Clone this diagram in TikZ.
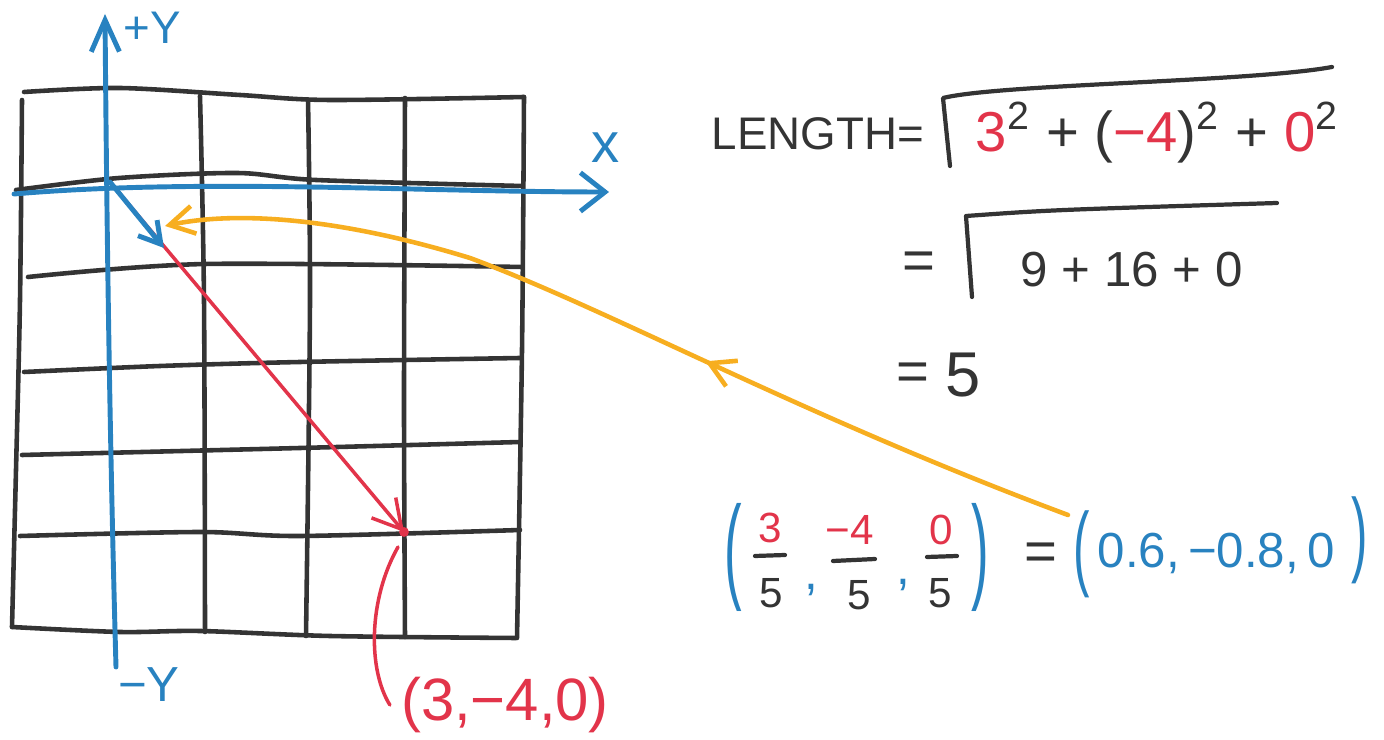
\documentclass[tikz,border=0pt]{standalone}
\usepackage{fontspec}
\setmainfont{Liberation Sans}
\usetikzlibrary{arrows.meta, decorations.markings}

\definecolor{penblue}{RGB}{40,130,192}
\definecolor{penred}{RGB}{226,52,74}
\definecolor{penorange}{RGB}{247,174,32}
\definecolor{pengray}{RGB}{52,52,52}

\tikzset{
        gridline/.style = {color = pengray, smooth, line width = 1.3pt, line cap = round},
        axisline/.style = {color = penblue, line width = 1.4pt, line cap = round},
        redline/.style = {color = penred, line width = 1pt, line cap = round},
        orangeline/.style = {color = penorange, line width = 1.3pt, line cap = round},
        pen/.style = {color = pengray, line width = 1.2pt, line cap = round, line join = round},
        hand/.style = {inner sep = 0pt, color = pengray, font = \fontsize{#1}{#1}\selectfont},
        hand/.default = 16
}

\begin{document}
\begin{tikzpicture}[x = 0.01cm, y = -0.01cm]
        \useasboundingbox (0,0) rectangle (1384,740);
        \draw[gridline] plot coordinates {(24,92) (120,88) (240,95) (330,100) (524,97)};
        \draw[gridline] plot coordinates {(16,190) (119,178) (237,173) (316,180) (522,186)};
        \draw[gridline] plot coordinates {(28,277) (205,264) (522,267)};
        \draw[gridline] plot coordinates {(24,372) (160,366) (300,362) (520,358)};
        \draw[gridline] plot coordinates {(22,455) (300,448) (520,442)};
        \draw[gridline] plot coordinates {(20,536) (200,532) (300,536) (520,530)};
        \draw[gridline] plot coordinates {(12,627) (120,632) (200,631) (330,636) (516,638)};
        \draw[gridline] plot coordinates {(22,100) (20,300) (16,470) (12,627)};
        \draw[gridline] plot coordinates {(200,96) (204,300) (205,632)};
        \draw[gridline] plot coordinates {(308,100) (310,300) (306,636)};
        \draw[gridline] plot coordinates {(405,98) (404,400) (405,637)};
        \draw[gridline] plot coordinates {(524,97) (522,350) (517,638)};

        \coordinate (origin) at (110,182);
        \coordinate (xleft) at (14,194);
        \coordinate (xright) at (609,192);
        \coordinate (ybottom) at (116,667);
        \coordinate (ytop) at (105,14);
        \coordinate (tip) at (404,532);
        \coordinate (unit) at (164,248);
        \coordinate (tipbelow) at (398,547);
        \coordinate (ostart) at (1068,515);
        \coordinate (oend) at (165,226);

        \draw[axisline, -{Straight Barb[length = 7pt, width = 11pt]}] (xleft) .. controls (200,178) and (420,192) .. (xright);
        \draw[axisline, -{Straight Barb[length = 9pt, width = 8pt]}] (ybottom) .. controls (110,450) and (107,250) .. (ytop);
        \node[hand = 13, color = penblue] (plusy) at (152,28) {+Y};
        \node[hand = 14, color = penblue] (minusy) at (149,685) {−Y};
        \node[hand = 16, color = penblue] (xlabel) at (606,148) {x};

        \draw[redline, -{Straight Barb[length = 8pt, width = 9pt]}] (origin) -- (tip);
        \fill[penred] (tip) circle [radius = 1.4pt];
        \draw[axisline, -{Straight Barb[length = 6pt, width = 7pt]}] (origin) -- (unit);

        \node[hand = 17, color = penred] (coordlabel) at (505,705) {(3,−4,0)};
        \draw[redline] (tipbelow) .. controls (368,600) and (368,670) .. ([xshift = -3pt]coordlabel.west);

        \draw[orangeline, -{Straight Barb[length = 7pt, width = 8pt]}, postaction = {decorate, decoration = {markings, mark = at position 0.41 with {\arrow{Straight Barb[length = 7pt, width = 8pt]}}}}] (ostart) .. controls (800,415) and (610,310) .. (470,258) .. controls (330,215) and (230,212) .. (oend);

        \node[hand = 13, anchor = west] (lengthlabel) at (711,134) {LENGTH=};
        \draw[pen] (950,166) -- (943,98) .. controls (1000,84) and (1250,82) .. (1332,67);
        \node[hand = 16, anchor = base west] (sumsq) at (975,152) {\textcolor{penred}{3}\textsuperscript{2} + (\textcolor{penred}{−4})\textsuperscript{2} + \textcolor{penred}{0}\textsuperscript{2}};

        \node[hand = 16] (eqtwo) at (919,266) {=};
        \draw[pen] (972,297) -- (966,216) .. controls (1050,210) .. (1277,203);
        \node[hand = 14, anchor = base west] (sumnum) at (1020,287) {9 + 16 + 0};

        \node[hand = 16] (eqthree) at (913,377) {=};
        \node[hand = 18, anchor = base west] (result) at (945,397) {5};

        \node[hand = 15, color = penblue] (lpar) at (733,557) {\scalebox{1}[2.2]{(}};
        \node[hand = 12, color = penred] (anum) at (770,528) {3};
        \node[hand = 12] (aden) at (771,593) {5};
        \draw[pen] (755,556) -- (785,555);
        \node[hand = 14, color = penblue] (commaa) at (811,590) {,};
        \node[hand = 12, color = penred] (bnum) at (850,530) {−4};
        \node[hand = 12] (bden) at (859,595) {5};
        \draw[pen] (833,561) -- (875,559);
        \node[hand = 14, color = penblue] (commab) at (903,585) {,};
        \node[hand = 12, color = penred] (cnum) at (941,530) {0};
        \node[hand = 12] (cden) at (940,593) {5};
        \draw[pen] (927,557) -- (957,556);
        \node[hand = 15, color = penblue] (rpar) at (980,557) {\scalebox{1}[2.2]{)}};
        \node[hand = 16] (eqfour) at (1041,557) {=};
        \node[hand = 14, color = penblue] (lparb) at (1082,554) {\scalebox{1}[1.9]{(}};
        \node[hand = 14, color = penblue, anchor = base west] (unitval) at (1097,568) {0.6,\,−0.8,\,0};
        \node[hand = 14, color = penblue] (rparb) at (1360,540) {\scalebox{1}[1.9]{)}};
\end{tikzpicture}
\end{document}
